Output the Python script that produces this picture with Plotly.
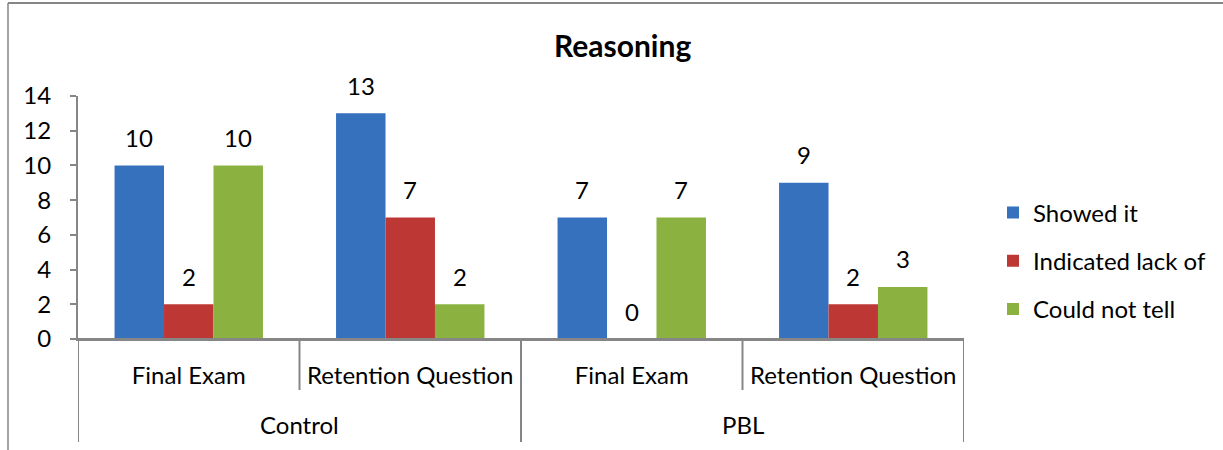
import plotly.graph_objects as go

groups = ["Control", "Control", "PBL", "PBL"]
questions = ["Final Exam", "Retention Question", "Final Exam", "Retention Question"]
series_names = ["Showed it", "Indicated lack of", "Could not tell"]
showed_it = [10, 13, 7, 9]
lack_of = [2, 7, 0, 2]
could_not_tell = [10, 2, 7, 3]
colors = ["#3671bd", "#bd3834", "#8bb241"]
y_ticks = [0, 2, 4, 6, 8, 10, 12, 14]

FONT = "Lato, 'Open Sans', sans-serif"
GRAY = "#868686"
BARGAP = 0.33

# plot area in pixels (figure occupies whole window)
L, R, T, B = 78, 964, 96, 339
PW, PH = R - L, B - T


def py(px):
    return (B - px) / PH


def pxx(px):
    return (px - L) / PW


idx = list(range(len(questions)))
values = [showed_it, lack_of, could_not_tell]
fig = go.Figure()
for i, (name, vals) in enumerate(zip(series_names, values)):
    fig.add_trace(go.Bar(
        x=idx, y=vals, name=name,
        marker=dict(color=colors[i], line=dict(width=0)),
        legendgroup=name,
    ))

w = (1 - BARGAP) / 3
annotations = []
for i, vals in enumerate(values):
    for j, v in enumerate(vals):
        annotations.append(dict(
            x=idx[j] + (i - 1) * w, y=v, xref="x", yref="y", text=str(v),
            showarrow=False, yanchor="middle", yshift=28,
            font=dict(family=FONT, size=24, color="#000"),
        ))

# outer (group) labels and dividers
shapes = []
group_names = []
for g in groups:
    if g not in group_names:
        group_names.append(g)
for g in group_names:
    members = [k for k, gg in enumerate(groups) if gg == g]
    center = sum(members) / len(members)
    annotations.append(dict(
        x=center, y=py(424), xref="x", yref="paper", text=g, showarrow=False,
        yanchor="middle", font=dict(family=FONT, size=24, color="#000"),
    ))
    for edge in (min(members) - 0.5, max(members) + 0.5):
        shapes.append(dict(type="line", xref="x", yref="paper", x0=edge, x1=edge,
                           y0=0, y1=py(442), line=dict(color=GRAY, width=2)))
    for k in members[:-1]:
        shapes.append(dict(type="line", xref="x", yref="paper", x0=k + 0.5, x1=k + 0.5,
                           y0=0, y1=py(390), line=dict(color=GRAY, width=2)))

annotations.append(dict(
    text="<b>Reasoning</b>", xref="paper", yref="paper",
    x=pxx(622), y=py(45), xanchor="center", yanchor="middle",
    showarrow=False, font=dict(family=FONT, size=30, color="#000"),
))

# outer frame of the chart
shapes += [
    dict(type="line", xref="paper", yref="paper",
         x0=pxx(8), x1=pxx(8), y0=py(3), y1=py(452),
         line=dict(color=GRAY, width=1.5)),
    dict(type="line", xref="paper", yref="paper",
         x0=pxx(8), x1=pxx(1225), y0=py(3), y1=py(3),
         line=dict(color=GRAY, width=2)),
    dict(type="line", xref="paper", yref="paper",
         x0=pxx(70), x1=pxx(964), y0=0, y1=0,
         line=dict(color=GRAY, width=2)),
]

fig.update_layout(
    width=1223, height=450,
    margin=dict(l=L, r=1223 - R, t=T, b=450 - B),
    paper_bgcolor="white", plot_bgcolor="white",
    barmode="group", bargap=BARGAP, bargroupgap=0,
    font=dict(family=FONT, size=24, color="#000"),
    showlegend=True,
    legend=dict(x=pxx(993), y=py(261), xanchor="left", yanchor="middle",
                font=dict(family=FONT, size=24, color="#000"),
                traceorder="grouped", tracegroupgap=14, bgcolor="rgba(0,0,0,0)"),
    annotations=annotations,
    shapes=shapes,
    xaxis=dict(
        range=[-0.5, len(questions) - 0.5], tickvals=idx, ticktext=questions,
        showline=True, linecolor=GRAY, linewidth=2, ticks="",
        ticklabelstandoff=14, showgrid=False, zeroline=False,
        tickfont=dict(family=FONT, size=24, color="#000"),
    ),
    yaxis=dict(
        range=[0, 14], tickvals=y_ticks, showline=True, linecolor=GRAY, linewidth=2,
        ticks="outside", ticklen=6, tickcolor=GRAY, tickwidth=2,
        showgrid=False, zeroline=False, ticklabelstandoff=14,
        tickfont=dict(family=FONT, size=24, color="#000"),
    ),
)

fig.write_html("out.html", config={"displayModeBar": False},
               post_script="document.body.style.margin='0px';")
